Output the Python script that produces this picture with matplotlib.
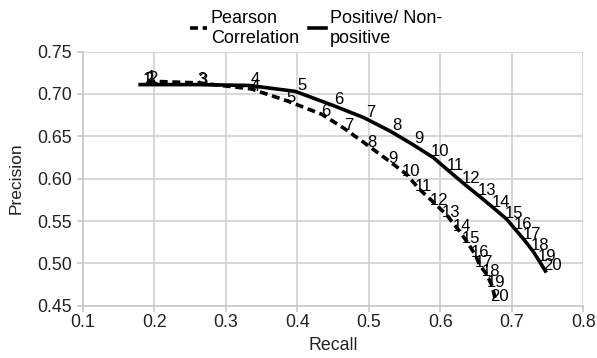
import matplotlib
matplotlib.use('Agg')
import matplotlib.pyplot as plt

plt.rcParams['font.family'] = ['Liberation Sans', 'DejaVu Sans']

# point number -> (recall, precision)
labels = [str(i) for i in range(1, 21)]

pearson_recall = [0.190, 0.192, 0.262, 0.335, 0.385, 0.434, 0.466, 0.499, 0.528, 0.553,
                  0.570, 0.592, 0.609, 0.625, 0.637, 0.649, 0.655, 0.665, 0.672, 0.677]
pearson_prec = [0.716, 0.715, 0.713, 0.706, 0.692, 0.676, 0.659, 0.639, 0.621, 0.605,
                0.588, 0.571, 0.557, 0.540, 0.526, 0.510, 0.498, 0.487, 0.474, 0.458]

posneg_recall = [0.180, 0.182, 0.257, 0.332, 0.397, 0.448, 0.493, 0.530, 0.560, 0.590,
                 0.612, 0.633, 0.655, 0.675, 0.693, 0.706, 0.718, 0.730, 0.739, 0.747]
posneg_prec = [0.711, 0.711, 0.711, 0.710, 0.703, 0.687, 0.672, 0.656, 0.641, 0.625,
               0.609, 0.594, 0.579, 0.565, 0.552, 0.539, 0.527, 0.514, 0.502, 0.491]

fig, ax = plt.subplots(figsize=(5.97, 3.58), dpi=100)
fig.subplots_adjust(left=0.139, right=0.977, top=0.856, bottom=0.146)

ax.plot(pearson_recall, pearson_prec, color='black', lw=2.6, ls=(0, (2.2, 1.3)),
        label='Pearson\nCorrelation', zorder=3)
ax.plot(posneg_recall, posneg_prec, color='black', lw=2.6,
        label='Positive/ Non-\npositive', zorder=3)

for lab, x, y in zip(labels, pearson_recall, pearson_prec):
    ax.annotate(lab, (x, y), xytext=(3, 2), textcoords='offset points',
                ha='center', va='center', fontsize=12, zorder=2)
for lab, x, y in zip(labels, posneg_recall, posneg_prec):
    ax.annotate(lab, (x, y), xytext=(5, 4), textcoords='offset points',
                ha='center', va='center', fontsize=12, zorder=2)

ax.set_xlim(0.1, 0.8)
ax.set_ylim(0.45, 0.75)
ax.set_xticks([0.1, 0.2, 0.3, 0.4, 0.5, 0.6, 0.7, 0.8])
ax.set_xticklabels(['0.1', '0.2', '0.3', '0.4', '0.5', '0.6', '0.7', '0.8'])
ax.set_yticks([0.45, 0.50, 0.55, 0.60, 0.65, 0.70, 0.75])
ax.set_yticklabels(['0.45', '0.50', '0.55', '0.60', '0.65', '0.70', '0.75'])
ax.grid(True, color='#d0d0d0', lw=1.2)
ax.set_axisbelow(True)
for s in ['top', 'right']:
    ax.spines[s].set_visible(False)
for s in ['left', 'bottom']:
    ax.spines[s].set_color('#c8c8c8')
    ax.spines[s].set_linewidth(1.2)
ax.tick_params(colors='#c8c8c8', labelcolor='#222222', labelsize=12.8, length=4.3, width=1.2)
ax.tick_params(axis='y', pad=3.5)
ax.tick_params(axis='x', pad=2)

ax.set_xlabel('Recall', fontsize=12.8, labelpad=4, color='#222222')
ax.set_ylabel('Precision', fontsize=12.5, labelpad=10, color='#222222')

ax.legend(loc='upper left', bbox_to_anchor=(190 / 597, 1 - 10 / 358),
          bbox_transform=fig.transFigure, ncol=2, frameon=False,
          fontsize=13, handlelength=0.95, handletextpad=0.2, columnspacing=0.55,
          borderaxespad=0, borderpad=0, labelspacing=0)

fig.savefig('out.png', dpi=100)
